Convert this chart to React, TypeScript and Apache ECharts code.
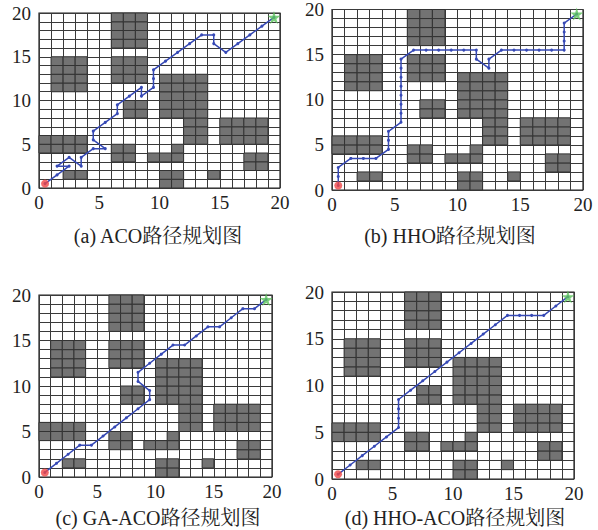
import React, { useEffect, useRef } from "react";
import * as echarts from "echarts";

// Obstacle blocks: [colStart, colEnd, rowStart, rowEnd] (inclusive cell indices)
const OBSTACLE_BLOCKS: number[][] = [
  [6, 8, 16, 19],
  [6, 8, 12, 14],
  [1, 3, 11, 14],
  [7, 8, 8, 9],
  [10, 11, 8, 12],
  [12, 13, 5, 12],
  [15, 18, 5, 7],
  [0, 3, 4, 5],
  [6, 7, 3, 4],
  [11, 11, 3, 4],
  [9, 10, 3, 3],
  [17, 18, 2, 3],
  [2, 3, 1, 1],
  [10, 11, 0, 1],
  [14, 14, 1, 1],
];

const START_POINT = [0.5, 0.5];
const GOAL_POINT = [19.5, 19.5];

const PATH_ACO = [
  [0.5, 0.5], [1.5, 1.5], [2.5, 2.5], [1.5, 2.5], [2.5, 3.5], [3.5, 2.5], [3.5, 3.5],
  [4.5, 4.5], [5.5, 4.5], [4.5, 5.5], [4.5, 6.5], [5.5, 7.5], [6.5, 8.5], [6.5, 9.5],
  [7.5, 10.5], [8.5, 11.5], [8.5, 10.5], [9.5, 11.5], [9.5, 12.5], [9.5, 13.5],
  [10.5, 14.5], [11.5, 15.5], [12.5, 16.5], [13.5, 17.5], [14.5, 17.5], [14.5, 16.5],
  [15.5, 15.5], [16.5, 16.5], [17.5, 17.5], [18.5, 18.5], [19.5, 19.5],
];

const PATH_HHO = [
  [0.5, 0.5], [0.5, 1.5], [0.5, 2.5], [1.5, 3.5], [2.5, 3.5], [3.5, 3.5], [4.5, 4.5],
  [4.5, 5.5], [4.5, 6.5], [5.5, 7.5], [5.5, 8.5], [5.5, 9.5], [5.5, 10.5], [5.5, 11.5],
  [5.5, 12.5], [5.5, 13.5], [5.5, 14.5], [6.5, 15.5], [7.5, 15.5], [8.5, 15.5],
  [9.5, 15.5], [10.5, 15.5], [11.5, 15.5], [11.5, 14.5], [12.5, 13.5], [12.5, 14.5],
  [13.5, 15.5], [14.5, 15.5], [15.5, 15.5], [16.5, 15.5], [17.5, 15.5], [18.5, 15.5],
  [18.5, 16.5], [18.5, 17.5], [18.5, 18.5], [19.5, 19.5],
];

const PATH_GA_ACO = [
  [0.5, 0.5], [1.5, 1.5], [2.5, 2.5], [3.5, 3.5], [4.5, 3.5], [5.5, 4.5], [6.5, 5.5],
  [7.5, 6.5], [8.5, 7.5], [9.5, 8.5], [9.5, 9.5], [8.5, 10.5], [8.5, 11.5], [9.5, 12.5],
  [10.5, 13.5], [11.5, 14.5], [12.5, 14.5], [13.5, 15.5], [14.5, 16.5], [15.5, 16.5],
  [16.5, 17.5], [17.5, 18.5], [18.5, 18.5], [19.5, 19.5],
];

const PATH_HHO_ACO = [
  [0.5, 0.5], [1.5, 1.5], [2.5, 2.5], [3.5, 3.5], [4.5, 4.5], [5.5, 5.5], [5.5, 6.5],
  [5.5, 7.5], [5.5, 8.5], [6.5, 9.5], [7.5, 10.5], [8.5, 11.5], [9.5, 12.5], [10.5, 13.5],
  [11.5, 14.5], [12.5, 15.5], [13.5, 16.5], [14.5, 17.5], [15.5, 17.5], [16.5, 17.5],
  [17.5, 17.5], [18.5, 18.5], [19.5, 19.5],
];

const CAPTIONS = [
  "(a) ACO路径规划图",
  "(b) HHO路径规划图",
  "(c) GA-ACO路径规划图",
  "(d) HHO-ACO路径规划图",
];

const AXIS_TICKS = [0, 5, 10, 15, 20];

const PATHS = [PATH_ACO, PATH_HHO, PATH_GA_ACO, PATH_HHO_ACO];

// layout of each panel: left, top, width, height (px) and caption position
const PANELS = [
  { left: 39, top: 13, width: 241, height: 175, capX: 158, capY: 236 },
  { left: 332, top: 7, width: 251, height: 183, capX: 450, capY: 236 },
  { left: 39, top: 295, width: 233, height: 182, capX: 158, capY: 518 },
  { left: 332, top: 292, width: 242, height: 187, capX: 455, capY: 518 },
];

const STAR =
  "path://M50,0 L61,35 L98,35 L68,57 L79,91 L50,70 L21,91 L32,57 L2,35 L39,35 Z";

const SERIF = "'Liberation Serif', 'Times New Roman', serif";
const CAPTION_FONT = "'Liberation Serif', 'Noto Serif CJK SC', 'Noto Sans CJK SC', serif";

function obstacleCells(): number[][] {
  const cells: number[][] = [];
  OBSTACLE_BLOCKS.forEach(([c0, c1, r0, r1]) => {
    for (let c = c0; c <= c1; c++) {
      for (let r = r0; r <= r1; r++) cells.push([c, r]);
    }
  });
  return cells;
}

export default function App() {
  const ref = useRef<HTMLDivElement>(null);

  useEffect(() => {
    if (!ref.current) return;
    const chart = echarts.init(ref.current, null, { renderer: "svg" });
    const cells = obstacleCells();

    const grids: any[] = [];
    const xAxes: any[] = [];
    const yAxes: any[] = [];
    const series: any[] = [];
    const graphics: any[] = [];

    const gridLine = { show: true, lineStyle: { color: "#3a3a3a", width: 1 } };

    PANELS.forEach((p, i) => {
      grids.push({
        left: p.left,
        top: p.top,
        width: p.width,
        height: p.height,
        show: true,
        borderColor: "#222",
        borderWidth: 1.2,
        backgroundColor: "#fff",
      });
      const axisCommon = {
        gridIndex: i,
        type: "value",
        min: AXIS_TICKS[0],
        max: AXIS_TICKS[AXIS_TICKS.length - 1],
        interval: AXIS_TICKS[1] - AXIS_TICKS[0],
        axisLine: { show: false },
        axisTick: { show: false },
        minorTick: { show: false, splitNumber: 5 },
        splitLine: gridLine,
        minorSplitLine: gridLine,
      };
      xAxes.push({
        ...axisCommon,
        axisLabel: { fontFamily: SERIF, fontSize: 19, color: "#222", margin: 5 },
      });
      yAxes.push({
        ...axisCommon,
        axisLabel: { fontFamily: SERIF, fontSize: 19, color: "#222", margin: 8 },
      });

      series.push({
        type: "custom",
        xAxisIndex: i,
        yAxisIndex: i,
        z: 2,
        silent: true,
        data: cells,
        encode: { x: 0, y: 1 },
        renderItem: (params: any, api: any) => {
          const c = api.value(0);
          const r = api.value(1);
          const p0 = api.coord([c, r + 1]);
          const p1 = api.coord([c + 1, r]);
          return {
            type: "rect",
            shape: { x: p0[0], y: p0[1], width: p1[0] - p0[0], height: p1[1] - p0[1] },
            style: { fill: "#737373", stroke: "#333", lineWidth: 1 },
          };
        },
      });

      series.push({
        type: "line",
        xAxisIndex: i,
        yAxisIndex: i,
        z: 3,
        data: PATHS[i],
        symbol: "circle",
        symbolSize: 3,
        showSymbol: true,
        itemStyle: { color: "#3548b5" },
        lineStyle: { color: "#3548b5", width: 1.5 },
      });

      series.push({
        type: "scatter",
        xAxisIndex: i,
        yAxisIndex: i,
        z: 4,
        data: [START_POINT],
        symbol: "circle",
        symbolSize: 8,
        itemStyle: { color: "#f04646" },
      });

      series.push({
        type: "scatter",
        xAxisIndex: i,
        yAxisIndex: i,
        z: 4,
        data: [GOAL_POINT],
        symbol: STAR,
        symbolSize: 13,
        itemStyle: { color: "#5cc45c" },
      });

      graphics.push({
        type: "text",
        x: p.capX,
        y: p.capY,
        style: {
          text: CAPTIONS[i],
          fontFamily: CAPTION_FONT,
          fontSize: 20,
          fill: "#222",
          textAlign: "center",
          textVerticalAlign: "middle",
        },
      });
    });

    chart.setOption({
      animation: false,
      backgroundColor: "#fff",
      grid: grids,
      xAxis: xAxes,
      yAxis: yAxes,
      series,
      graphic: graphics,
    });

    return () => chart.dispose();
  }, []);

  return (
    <div
      ref={ref}
      style={{ position: "fixed", left: 0, top: 0, width: 598, height: 530, background: "#fff" }}
    />
  );
}
